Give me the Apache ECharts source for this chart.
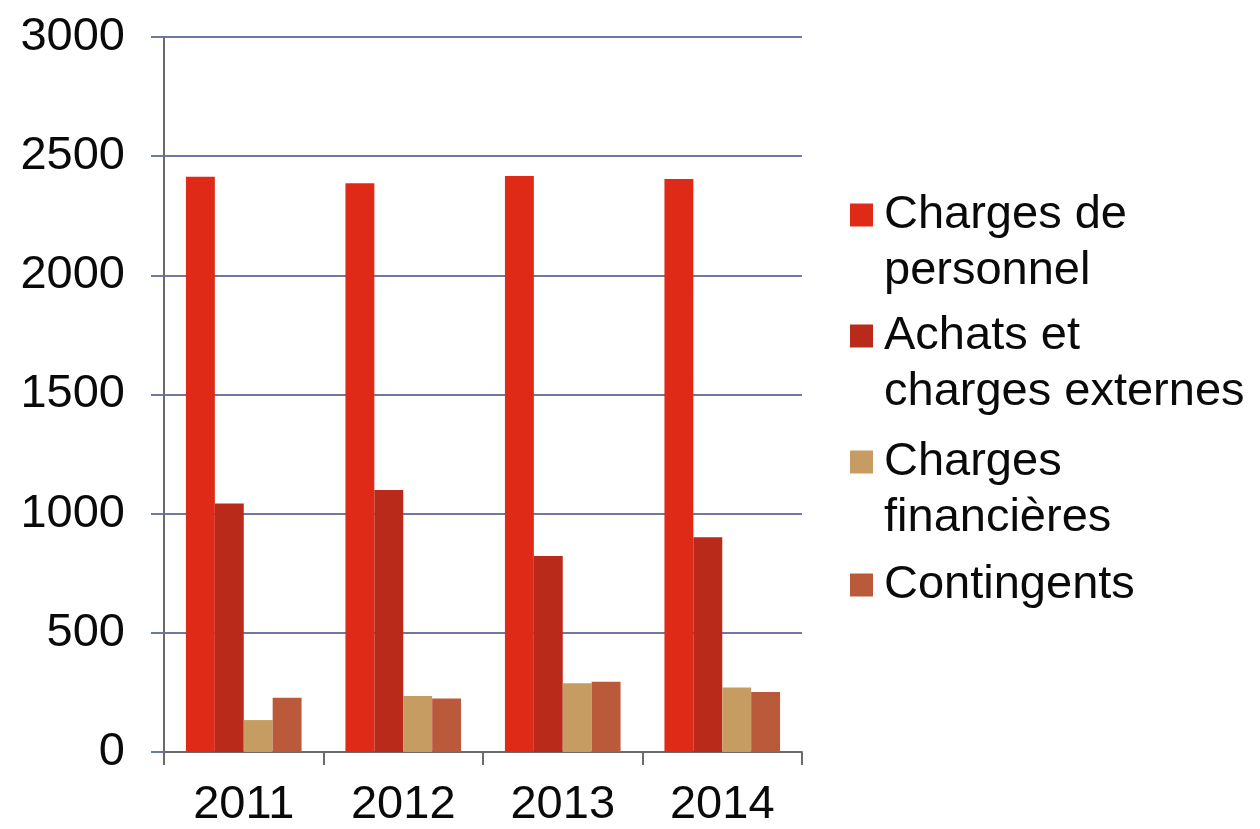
<!DOCTYPE html>
<html>
<head>
<meta charset="utf-8">
<script src="https://cdn.jsdelivr.net/npm/echarts@6/dist/echarts.min.js"></script>
<style>
  html, body { margin: 0; padding: 0; background: #ffffff; }
  #chart { width: 1260px; height: 829px; }
</style>
</head>
<body>
<div id="chart"></div>
<script>
// Annual expenses by category
const years = ['2011', '2012', '2013', '2014'];
const chargesPersonnel = [2414, 2386, 2417, 2404];
const achatsExternes = [1043, 1099, 822, 901];
const chargesFinancieres = [134, 235, 288, 271];
const contingents = [228, 224, 295, 252];

const seriesNames = [
  'Charges de\npersonnel',
  'Achats et\ncharges externes',
  'Charges\nfinancières',
  'Contingents'
];
const seriesColors = ['#de2a16', '#b92a1b', '#c69c62', '#bb5a3b'];
const seriesValues = [chargesPersonnel, achatsExternes, chargesFinancieres, contingents];

const FONT = '"Liberation Sans", Arial, sans-serif';
const FONT_SIZE = 47;
const LINE_H = 56;
// centre of each legend swatch (first text line sits on it)
const legendCentres = [215, 336, 462, 585];

// one legend block per series so every swatch lines up with the first line of its label
const legends = seriesNames.map((name, i) => {
  const lines = name.split('\n').length;
  const padTop = (lines - 1) * LINE_H;
  const half = (lines * LINE_H + padTop) / 2;
  return {
    orient: 'vertical',
    left: 850,
    top: legendCentres[i] - half,
    padding: 0,
    itemWidth: 23,
    itemHeight: 23,
    selectedMode: false,
    data: [{ name: name, icon: 'rect' }],
    formatter: n => n.split('\n').map(l => '{t|' + l + '}').join('\n'),
    textStyle: {
      padding: [padTop, 0, 0, 6],
      backgroundColor: 'rgba(0,0,0,0)',
      rich: {
        t: {
          fontFamily: FONT,
          fontSize: FONT_SIZE,
          lineHeight: LINE_H,
          color: '#0a0a0a'
        }
      }
    }
  };
});

const chart = echarts.init(document.getElementById('chart'), null, { renderer: 'canvas' });
chart.setOption({
  animation: false,
  backgroundColor: '#ffffff',
  grid: { left: 164, right: 458, top: 37, bottom: 77, containLabel: false },
  legend: legends,
  xAxis: {
    type: 'category',
    data: years,
    axisLine: { show: true, lineStyle: { color: '#6b6b6b', width: 2 } },
    axisTick: { show: true, alignWithLabel: false, length: 13, lineStyle: { color: '#6b6b6b', width: 2 } },
    axisLabel: { fontFamily: FONT, fontSize: FONT_SIZE, color: '#0a0a0a', margin: 30 },
    splitLine: { show: false }
  },
  yAxis: {
    type: 'value',
    min: 0,
    max: 3000,
    interval: 500,
    axisLine: { show: true, lineStyle: { color: '#6b6b6b', width: 2 } },
    axisTick: { show: true, length: 13, lineStyle: { color: '#6e78a2', width: 2 } },
    axisLabel: {
      fontFamily: FONT,
      fontSize: FONT_SIZE,
      color: '#0a0a0a',
      margin: 39,
      formatter: v => String(v)
    },
    splitLine: { show: true, lineStyle: { color: '#6e78a2', width: 2 } }
  },
  series: seriesNames.map((name, i) => ({
    name: name,
    type: 'bar',
    data: seriesValues[i],
    barGap: '0%',
    barCategoryGap: '27.5%',
    itemStyle: { color: seriesColors[i] }
  }))
});
</script>
</body>
</html>
